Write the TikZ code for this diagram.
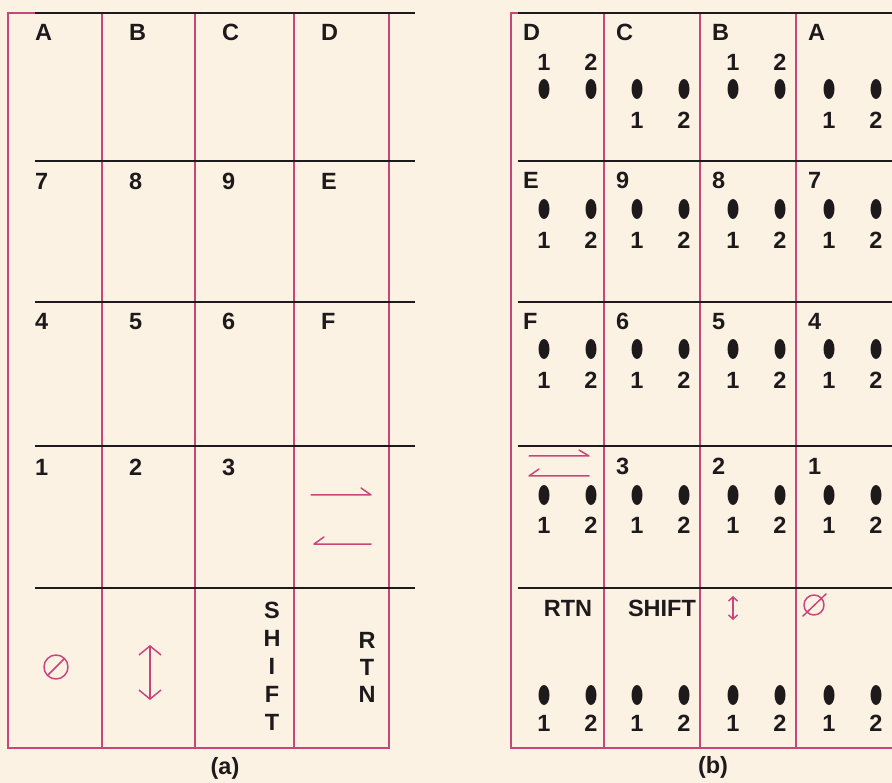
\documentclass[tikz,border=0pt]{standalone}
\usepackage{fontspec}
\setmainfont{Liberation Sans}
\usetikzlibrary{arrows.meta}
\definecolor{cpaper}{HTML}{FCF2E4}
\definecolor{cpink}{HTML}{C8467C}
\definecolor{cink}{HTML}{1E1A1C}

\begin{document}
\begin{tikzpicture}[x=1pt,y=-1pt,
  font=\fontsize{23.5}{27}\selectfont\bfseries,
  grid/.style={draw=cpink,line width=1.3pt},
  rule/.style={draw=cink,line width=1.7pt},
  lbl/.style={text=cink,inner sep=0pt,anchor=base west},
  ctr/.style={text=cink,inner sep=0pt},
  hole/.style={fill=cink},
  sym/.style={draw=cpink,line width=1.5pt,line cap=round,line join=round},
  vbarb/.tip={Straight Barb[length=9pt,width=22pt]},
  sbarb/.tip={Straight Barb[length=4pt,width=9pt]}]
  \fill[cpaper] (0,0) rectangle (892,783);
  \useasboundingbox (0,0) rectangle (892,783);

  % (a) card layout
  \draw[grid] (8,13) rectangle (389,748);
  \foreach \x in {102,195,294} \draw[grid] (\x,13) -- (\x,748);
  \foreach \y in {13,161,302,446,588} \draw[rule] (35,\y) -- (415,\y);
  \foreach \x/\lab in {8/A,102/B,195/C,294/D} \node[lbl] (a1-\lab) at (\x+27,41) {\lab};
  \foreach \x/\lab in {8/7,102/8,195/9,294/E} \node[lbl] (a2-\lab) at (\x+27,190) {\lab};
  \foreach \x/\lab in {8/4,102/5,195/6,294/F} \node[lbl] (a3-\lab) at (\x+27,330) {\lab};
  \foreach \x/\lab in {8/1,102/2,195/3} \node[lbl] (a4-\lab) at (\x+27,476) {\lab};
  % space / backspace
  \draw[sym] (311,495) -- (371,495) -- (361,488);
  \draw[sym] (371,544) -- (314,544) -- (324,537);
  % bottom row
  \draw[sym] (56,667) circle (12);
  \draw[sym] (48,675) -- (64,659);
  \draw[sym,vbarb-vbarb] (150,645) -- (150,700);
  \foreach \c [count=\k from 0] in {S,H,I,F,T} \node[ctr] (ashift-\k) at (272,610+28*\k) {\c};
  \foreach \c [count=\k from 0] in {R,T,N} \node[ctr] (artn-\k) at (367,640+27*\k) {\c};
  \node[ctr] (capa) at (225,768) {(a)};

  % (b) hole layout
  \draw[grid] (892,13) -- (511,13) -- (511,748) -- (892,748);
  \foreach \x in {604,700,796} \draw[grid] (\x,13) -- (\x,748);
  \foreach \y in {13,161,302,446,588} \draw[rule] (518,\y) -- (892,\y);
  \foreach \x/\lab in {511/D,604/C,700/B,796/A} \node[lbl] (b1-\lab) at (\x+12,41) {\lab};
  \foreach \x/\lab in {511/E,604/9,700/8,796/7} \node[lbl] (b2-\lab) at (\x+12,189) {\lab};
  \foreach \x/\lab in {511/F,604/6,700/5,796/4} \node[lbl] (b3-\lab) at (\x+12,330) {\lab};
  \foreach \x/\lab in {604/3,700/2,796/1} \node[lbl] (b4-\lab) at (\x+12,475) {\lab};
  % holes
  \foreach \x in {511,604,700,796}
    \foreach \y in {89,209,349,495,695} {
      \fill[hole] (\x+33,\y) ellipse [x radius=5.5,y radius=10];
      \fill[hole] (\x+80,\y) ellipse [x radius=5.5,y radius=10];
    }
  % hole numbers
  \foreach \x/\y in {511/62,604/120,700/62,796/120,
                     511/240,604/240,700/240,796/240,
                     511/380,604/380,700/380,796/380,
                     511/525,604/525,700/525,796/525,
                     511/723,604/723,700/723,796/723} {
    \node[ctr] (one-\x-\y) at (\x+33,\y) {1};
    \node[ctr] (two-\x-\y) at (\x+80,\y) {2};
  }
  \draw[sym] (529,456) -- (589,456) -- (579,450);
  \draw[sym] (589,476) -- (529,476) -- (539,469);
  \node[ctr] (brtn) at (568,608) {RTN};
  \node[ctr] (bshift) at (662,608) {SHIFT};
  \draw[sym,sbarb-sbarb] (733,596) -- (733,620);
  \draw[sym] (814,605) circle (10);
  \draw[sym] (803,616) -- (826,594);
  \node[ctr] (capb) at (713,767) {(b)};
\end{tikzpicture}
\end{document}
